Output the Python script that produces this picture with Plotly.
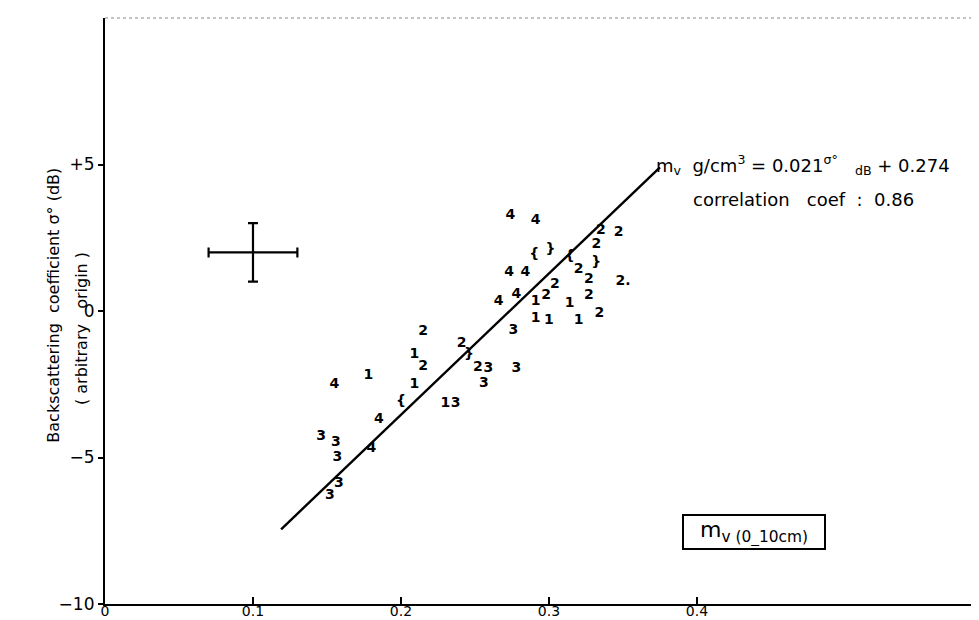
import plotly.graph_objects as go

# ---- data ----
point_label = ["4", "4", "2", "2", "2", "{", "}", "{", "2", "}", "2", "2.",
               "4", "4", "2", "2", "4", "4", "1", "2", "1", "1", "1", "1", "2", "3",
               "2", "}", "2", "3", "3", "3",
               "2", "1", "2", "1", "{", "1", "3", "4", "1",
               "4", "4", "3", "3", "3", "3", "3"]
point_x = [0.274, 0.291, 0.335, 0.347, 0.332, 0.290, 0.301, 0.314, 0.320, 0.332, 0.327, 0.350,
           0.273, 0.284, 0.304, 0.298, 0.278, 0.266, 0.291, 0.327, 0.314, 0.291, 0.300, 0.320, 0.334, 0.276,
           0.241, 0.246, 0.252, 0.259, 0.256, 0.278,
           0.215, 0.209, 0.215, 0.209, 0.200, 0.230, 0.237, 0.155, 0.178,
           0.185, 0.180, 0.146, 0.156, 0.157, 0.152, 0.158]
point_y = [3.27, 3.10, 2.76, 2.69, 2.28, 1.94, 2.10, 1.86, 1.42, 1.64, 1.06, 0.99,
           1.33, 1.33, 0.92, 0.54, 0.58, 0.31, 0.31, 0.54, 0.24, -0.27, -0.31, -0.31, -0.07, -0.65,
           -1.12, -1.50, -1.92, -1.97, -2.48, -1.97,
           -0.70, -1.50, -1.90, -2.50, -3.10, -3.16, -3.16, -2.50, -2.20,
           -3.70, -4.70, -4.30, -4.50, -5.00, -6.30, -5.90]

fit_x = [0.119, 0.375]
fit_y = [-7.45, 4.90]

cross_x = [0.10]
cross_y = [2.0]
cross_dx = [0.03]
cross_dy = [1.0]

x_tickvals = [0, 0.1, 0.2, 0.3, 0.4]
x_ticktext = ["0", "0.1", "0.2", "0.3", "0.4"]
y_tickvals = [-10, -5, 0, 5]
y_ticktext = ["−10", "−5", "0", "+5"]

FONT = "DejaVu Sans"

fig = go.Figure()
fig.add_trace(go.Scatter(x=fit_x, y=fit_y, mode="lines",
                         line=dict(color="black", width=2.4), showlegend=False))
fig.add_trace(go.Scatter(x=point_x, y=point_y, mode="text", text=point_label,
                         textposition="middle center",
                         textfont=dict(family=FONT, size=14, color="black", weight="bold"),
                         showlegend=False))
fig.add_trace(go.Scatter(x=cross_x, y=cross_y, mode="markers",
                         marker=dict(size=1, color="black"),
                         error_x=dict(type="data", array=cross_dx, color="black", thickness=2.2, width=5),
                         error_y=dict(type="data", array=cross_dy, color="black", thickness=2.2, width=5),
                         showlegend=False))

fig.update_layout(
    width=979, height=620,
    margin=dict(l=97, r=0, t=10, b=24),
    paper_bgcolor="white", plot_bgcolor="white",
    font=dict(family=FONT, color="black"),
    showlegend=False,
    xaxis=dict(range=[0, 0.596], tickvals=x_tickvals, ticktext=x_ticktext,
               ticks="inside", ticklen=7, tickwidth=2, tickcolor="black",
               showline=True, linewidth=2.2, linecolor="black",
               showgrid=False, zeroline=False, tickfont=dict(size=14),
               ticklabelstandoff=-7),
    yaxis=dict(range=[-10, 10], tickvals=y_tickvals, ticktext=y_ticktext,
               ticks="outside", ticklen=5, tickwidth=2, tickcolor="black",
               showline=True, linewidth=2.2, linecolor="black",
               showgrid=False, zeroline=False, tickfont=dict(size=17)),
    shapes=[dict(type="line", xref="paper", yref="paper", x0=0, x1=1, y0=1, y1=1,
                 line=dict(color="#888888", width=1, dash="dot"))],
    annotations=[
        dict(x=0.371, y=5.0, xref="x", yref="y", xanchor="left", yanchor="middle",
             showarrow=False, font=dict(size=18),
             text="m<sub>v</sub>  g/cm<sup>3</sup> = 0.021<sup>σ°</sup>   <sub>dB</sub> + 0.274"),
        dict(x=0.472, y=3.8, xref="x", yref="y", xanchor="center", yanchor="middle",
             showarrow=False, font=dict(size=18),
             text="correlation   coef  :  0.86"),
        dict(x=0.4385, y=-7.55, xref="x", yref="y", xanchor="center", yanchor="middle",
             showarrow=False, font=dict(size=22), bordercolor="black", borderwidth=2,
             borderpad=2, width=136, height=28, align="center",
             text="m<sub>v (0_10cm)</sub>"),
        dict(x=-0.0714, y=0.51, xref="paper", yref="paper", textangle=-90, showarrow=False,
             font=dict(size=16), text="Backscattering  coefficient σ° (dB)"),
        dict(x=-0.0397, y=0.47, xref="paper", yref="paper", textangle=-90, showarrow=False,
             font=dict(size=16), text="( arbitrary   origin )"),
    ],
)

fig.write_html("out.html")
